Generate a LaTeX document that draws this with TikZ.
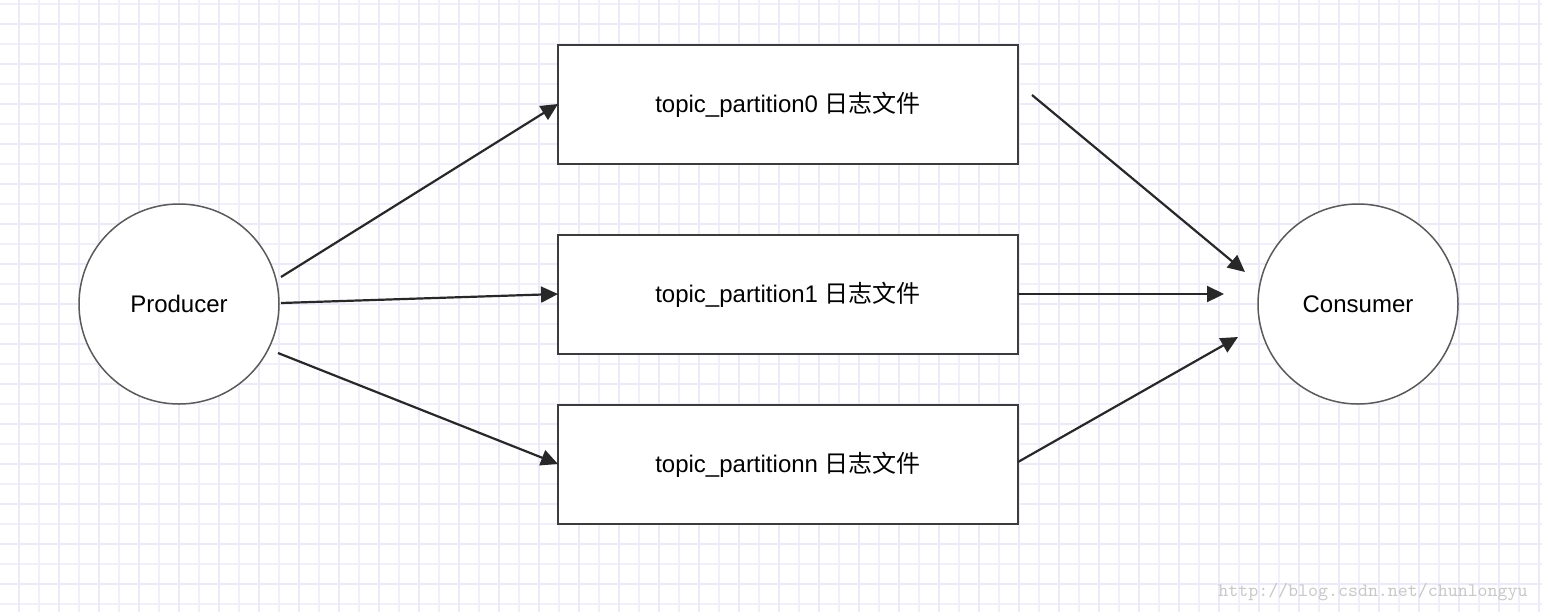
\documentclass[tikz,border=0pt]{standalone}
\usepackage{fontspec}
\setmainfont{Liberation Sans}
\newfontfamily\cjk{Noto Sans CJK SC}
\usetikzlibrary{arrows.meta}
\definecolor{gridlight}{RGB}{240,240,251}
\definecolor{griddark}{RGB}{234,234,249}
\definecolor{strokegray}{RGB}{90,90,90}
\definecolor{rectgray}{RGB}{60,60,60}
\definecolor{arrowgray}{RGB}{40,40,40}
\definecolor{wmgray}{RGB}{200,200,200}
\tikzset{
  roundnode/.style={circle, draw=strokegray, fill=white, line width=0.75pt, minimum size=100pt, inner sep=0pt, font=\fontsize{12}{14}\selectfont},
  boxnode/.style={rectangle, draw=rectgray, fill=white, line width=0.9pt, minimum width=230pt, minimum height=59.5pt, inner sep=0pt, font=\fontsize{12}{14}\selectfont},
  flow/.style={draw=arrowgray, line width=1.1pt, -{Triangle[length=8.5pt,width=8pt]}},
  watermark/.style={font=\ttfamily\fontsize{9.5}{11}\selectfont, text=wmgray, inner sep=0pt}
}
\begin{document}
\begin{tikzpicture}[x=0.5pt,y=-0.5pt]
\useasboundingbox (0,0) rectangle (1542,612);
\fill[white] (0,0) rectangle (1542,612);
% grid
\foreach \i in {0,...,76} {
  \draw[gridlight, line width=0.9pt] ({19+20*\i},0) -- ({19+20*\i},612);
}
\foreach \j in {0,...,30} {
  \draw[gridlight, line width=0.9pt] (0,{4+20*\j}) -- (1542,{4+20*\j});
}
\foreach \i in {0,...,38} {
  \draw[griddark, line width=0.9pt] ({19+40*\i},0) -- ({19+40*\i},612);
}
\foreach \j in {0,...,14} {
  \draw[griddark, line width=0.9pt] (0,{24+40*\j}) -- (1542,{24+40*\j});
}
% nodes
\node[roundnode] (prod) at (179,304) {Producer};
\node[roundnode] (cons) at (1358,304) {Consumer};
\node[boxnode] (p0) at (788,104.5) {topic\_partition0 {\cjk 日志文件}};
\node[boxnode] (p1) at (788,294.5) {topic\_partition1 {\cjk 日志文件}};
\node[boxnode] (pn) at (788,464.5) {topic\_partitionn {\cjk 日志文件}};
% connector ends
\coordinate (s0) at (281,277);
\coordinate (s1) at (281,303);
\coordinate (sn) at (278,353);
\coordinate (t0) at (558,104);
\coordinate (t1) at (558,294);
\coordinate (tn) at (558,464);
\coordinate (u0) at (1032,95);
\coordinate (u1) at (1018,294);
\coordinate (un) at (1018,462);
\coordinate (c0) at (1245,272);
\coordinate (c1) at (1224,294);
\coordinate (cn) at (1238,337);
\draw[flow] (s0) -- (t0);
\draw[flow] (s1) -- (t1);
\draw[flow] (sn) -- (tn);
\draw[flow] (u0) -- (c0);
\draw[flow] (u1) -- (c1);
\draw[flow] (un) -- (cn);
% watermark
\node[watermark, anchor=east] (wm) at (1528,592) {http://blog.csdn.net/chunlongyu};
\end{tikzpicture}
\end{document}
